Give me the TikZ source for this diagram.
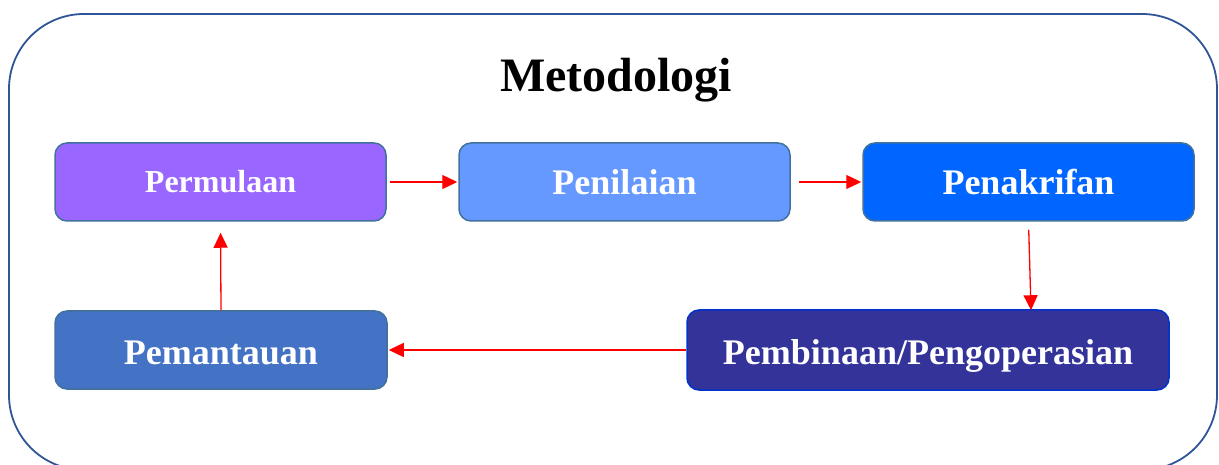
\documentclass[tikz,border=0pt]{standalone}
\usepackage{fontspec}
\setmainfont{Liberation Serif}
\usetikzlibrary{arrows.meta}
\definecolor{outerc}{HTML}{2F5597}
\definecolor{boxborder}{HTML}{41719C}
\definecolor{c1}{HTML}{9966FF}
\definecolor{c2}{HTML}{6699FF}
\definecolor{c3}{HTML}{0066FF}
\definecolor{c4}{HTML}{4472C4}
\definecolor{c5}{HTML}{333399}
\definecolor{c5b}{HTML}{0033CC}
\definecolor{arr}{HTML}{FF0000}
\begin{document}
\begin{tikzpicture}[x=1pt,y=-1pt,
  stagebox/.style={draw=boxborder, line width=1.5pt, rounded corners=12pt,
    text=white, font=\bfseries\fontsize{36}{40}\selectfont,
    inner sep=0pt, minimum height=78pt, text depth=0pt},
  flow/.style={draw=arr, line width=1.3pt, -{Triangle[length=15pt,width=14pt]}}]
\useasboundingbox (0,0) rectangle (1219,465);
\draw[outerc, line width=1.8pt, rounded corners=75pt] (9,14) rectangle (1217,470);
\node[font=\bfseries\fontsize{48}{54}\selectfont] (title) at (616,80) {Metodologi};
\node[stagebox, fill=c1, minimum width=331pt, text height=22pt, font=\bfseries\fontsize{32}{36}\selectfont] (p1) at (220.5,182) {Permulaan};
\node[stagebox, fill=c2, minimum width=331pt, text height=26pt] (p2) at (624.5,182) {Penilaian};
\node[stagebox, fill=c3, minimum width=331pt, text height=26pt] (p3) at (1028.5,182) {Penakrifan};
\node[stagebox, fill=c4, minimum width=332pt, text height=28pt] (p5) at (221,350) {Pemantauan};
\node[stagebox, draw=c5b, fill=c5, minimum width=482pt, minimum height=80pt, text height=28pt] (p4) at (928,350) {Pembinaan/Pengoperasian};
\draw[flow, shorten <=3pt, shorten >=1pt] (p1.east) -- (p2.west);
\draw[flow, shorten <=8pt, shorten >=1pt] (p2.east) -- (p3.west);
\draw[flow, shorten <=8pt, shorten >=-1pt] (p3.south) -- ([xshift=103pt]p4.north);
\draw[flow, shorten >=1pt] (p4.west) -- (p5.east);
\draw[flow, shorten >=11pt] (p5.north) -- (p1.south);
\end{tikzpicture}
\end{document}
